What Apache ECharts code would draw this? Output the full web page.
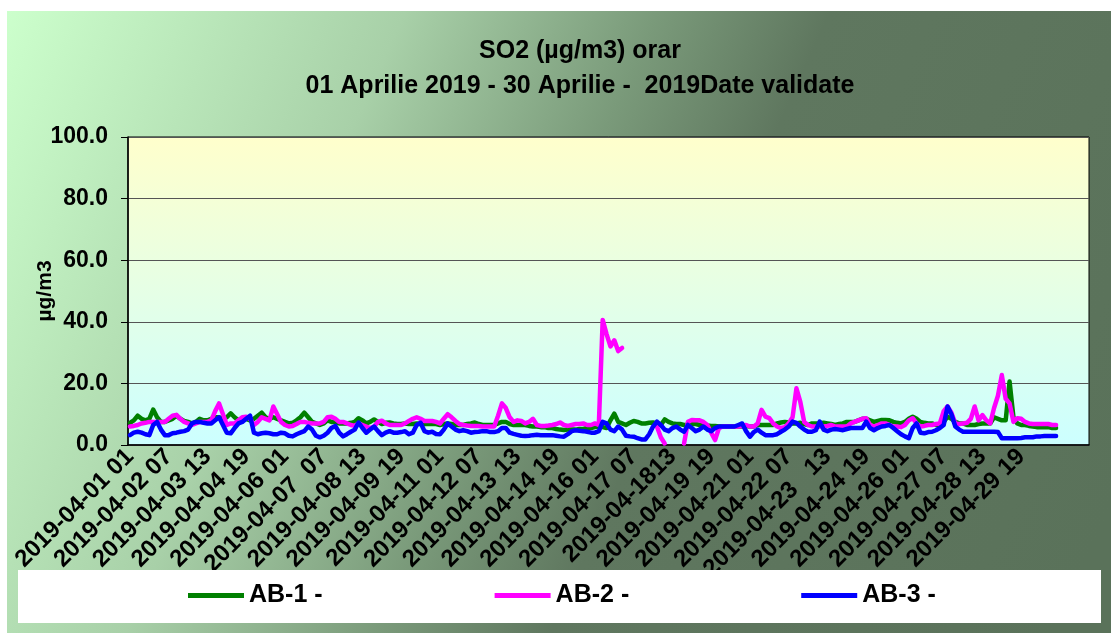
<!DOCTYPE html>
<html>
<head>
<meta charset="utf-8">
<title>SO2 orar</title>
<script src="https://cdn.jsdelivr.net/npm/echarts@6/dist/echarts.min.js"></script>
<style>
  html, body { margin: 0; padding: 0; background: #ffffff; }
  #chart { width: 1111px; height: 633px; }
</style>
</head>
<body>
<div id="chart"></div>
<script>
// 3-hourly readings, 2019-04-01 01 .. 2019-04-30 22 (240 points)
var ab1 = [
  7.2, 8, 9.5, 8.5, 8, 8.5, 11.5, 9, 7.5, 7.5,
  8, 8.5, 9.5, 8.5, 7.8, 7.5, 7, 7.5, 8.5, 8,
  8, 8.5, 9, 9, 8.5, 9, 10.3, 9, 8, 8.5,
  8.5, 8, 8.5, 9.5, 10.5, 9, 8.5, 9, 8.5, 8,
  7.5, 7, 7.2, 8, 9, 10.5, 9, 7.5, 7, 6.5,
  7, 8, 7.5, 7.5, 7, 7, 7, 7.2, 7.5, 8.7,
  8, 7, 7.5, 8.3, 7.5, 6.8, 7.2, 7.3, 7, 6.8,
  6.8, 7, 6.8, 6.8, 7, 6.8, 6.8, 6.8, 6.8, 6.8,
  6.5, 6.8, 7, 6.8, 6.5, 6.5, 6.5, 6.8, 7, 7.3,
  6.8, 6.5, 6.5, 6.5, 6.5, 7, 7.5, 7.5, 6.8, 6.5,
  6.5, 6.5, 6.5, 6.2, 6, 6, 5.8, 5.8, 5.5, 5.5,
  5.2, 5, 4.9, 5, 5, 5, 5.2, 5.2, 5.5, 5.5,
  5.8, 6, 5.8, 5.5, 8, 10.2, 7.5, 7, 6.5, 7.2,
  7.8, 7.5, 7, 7, 7.2, 7.3, 7, 6.5, 8.3, 7.5,
  7, 6.8, 6.8, 6.5, 6.5, 6.8, 6.8, 6.5, 6.5, 6.3,
  6.2, 6.2, 6, 6, 6, 6, 6, 6, 6, 6.2,
  6, 6, 6.5, 6.5, 6.5, 6.5, 6.5, 7, 7.3, 7.5,
  7.3, 7, 7, 7.2, 6.8, 6.5, 7, 7, 7, 7.2,
  7, 6.8, 6.5, 6.8, 7, 7.5, 7.5, 7.5, 8, 8.5,
  8.5, 8, 7.5, 7.8, 8.1, 8.1, 8, 7.5, 7.2, 7,
  7.5, 8.5, 9.2, 8.5, 7.5, 7.2, 7, 7, 6.5, 6.5,
  7.5, 9.2, 8.5, 7.5, 7, 7, 6.5, 6.5, 6.5, 6.8,
  7, 7, 7, 9, 8.5, 8, 8, 20.6, 9, 7,
  6.5, 6.5, 6.2, 6, 5.8, 5.8, 5.8, 5.8, 5.5, 5.5
];
var ab2 = [
  6, 6.2, 6.5, 7, 7.2, 7.5, 7.5, 7.5, 7.5, 7.5,
  8.5, 9.5, 9.8, 8.5, 7.5, 7, 6.5, 7, 7.5, 7.5,
  7.5, 8, 11, 13.5, 10, 6.5, 7, 7, 8, 9,
  9.2, 8.5, 6.5, 7.5, 9, 8.5, 8, 12.5, 10, 7.5,
  6.5, 6, 6.2, 6.8, 7.5, 7.5, 7.2, 7, 7, 7,
  7.5, 9, 9.2, 8.5, 7.5, 7.5, 7, 6.5, 6.2, 7,
  6.5, 6, 5.5, 6, 7.5, 7.9, 7, 6.5, 6.5, 6.5,
  6.5, 7, 7.8, 8.5, 9, 8.5, 7.8, 7.8, 7.8, 7.5,
  7, 8.5, 10, 9, 7.8, 6.8, 6.5, 6.3, 6.2, 6.2,
  6.2, 6, 6, 6, 6, 9.5, 13.5, 12, 9, 7.5,
  8, 7.8, 7, 7.5, 8.5, 6.5, 6.2, 6.2, 6.3, 6.5,
  6.8, 7.3, 6.5, 6.2, 6.5, 6.8, 6.8, 7, 6.5, 6.5,
  7, 6.5, 40.6, 36, 32, 34, 30.5, 31.5, null, null,
  null, null, null, null, null, null, 6, 2.5, 0.5, null,
  null, null, null, 0.5, 7.5, 8.1, 8, 8, 7.5, 6.5,
  4, 1.6, 5.5, 6, 6, 6, 6, 6, 6.2, 6.5,
  6, 6, 7, 11.4, 9.2, 8.7, 7, 6, 5.5, 5.8,
  7, 9, 18.4, 14, 7.5, 6.5, 6, 6, 6, 6,
  6.2, 6.5, 6, 6, 6, 6, 7, 7.5, 8, 8.5,
  8.7, 6.5, 6, 6.5, 7, 7, 6.5, 6, 6, 5.8,
  6.5, 8, 8.7, 7, 6, 6.2, 6.5, 6.5, 6.8, 7,
  11, 12.5, 10.5, 7, 6.8, 7, 7.2, 8.5, 12.5, 8,
  9.7, 8, 7, 12, 16, 22.7, 15, 13.5, 7.5, 8.7,
  8.5, 7.5, 7, 6.8, 6.8, 6.8, 6.8, 6.8, 6.5, 6.5
];
var ab3 = [
  3.2, 4, 4.3, 4, 3.5, 3.2, 6.5, 7.5, 5, 3.2,
  3.2, 3.8, 4, 4.3, 4.5, 5, 7, 7.5, 7.5, 7.2,
  7, 7, 8, 9, 6.5, 4, 3.8, 5.5, 7, 7.5,
  8.5, 9.5, 4, 3.5, 3.8, 4, 3.8, 3.5, 3.5, 4,
  3.8, 3, 2.8, 3.5, 4, 4.5, 6, 5, 3, 2.5,
  3, 4, 5.5, 6.2, 4, 2.8, 3.5, 4.3, 5, 7.3,
  5.5, 4, 5, 6, 4.5, 3.2, 4, 4.5, 4, 4,
  4.2, 4.5, 3.5, 4, 6.5, 7.2, 4.5, 4, 4.3, 3.6,
  3.5, 5, 7, 6, 5, 4.5, 4.8, 4.5, 4, 4.2,
  4.3, 4.5, 4.5, 4.2, 4.2, 4.5, 5.5, 5.5, 4, 3.6,
  3.3, 3, 2.9, 3, 3.2, 3.3, 3.2, 3.2, 3.2, 3.2,
  3, 2.8, 2.7, 3.5, 4.5, 4.8, 4.6, 4.5, 4.3, 4,
  4, 4.5, 7.5, 7, 5, 4.5, 6, 5, 3, 2.8,
  2.7, 2.2, 1.8, 1.8, 3.5, 6, 7.6, 6.5, 5, 4.5,
  5.5, 6, 5, 4.3, 6.5, 5.5, 4.5, 5, 6, 5,
  4.5, 5.5, 6, 6, 6, 6, 6, 6.5, 7, 4.5,
  2.7, 4.2, 5, 4, 3.2, 3.2, 3.2, 3.5, 4.3, 5,
  6, 7.6, 7.2, 6, 5, 4.3, 4.3, 4.8, 7.6, 5,
  4.5, 5, 5.2, 5, 4.8, 5.2, 5.5, 5.5, 5.5, 5.5,
  7.6, 5.5, 4.8, 5.5, 6, 6.2, 6.5, 5.5, 4.5, 3.5,
  2.8, 2.2, 5.5, 7, 4, 3.8, 4.2, 4.3, 4.8, 5.5,
  6.5, 12.5, 10, 6, 5, 4.3, 4.3, 4.3, 4.3, 4.3,
  4.3, 4.3, 4.3, 4.3, 4.2, 2.2, 2.2, 2.2, 2.2, 2.2,
  2.3, 2.5, 2.5, 2.5, 2.8, 2.8, 2.9, 2.9, 2.9, 2.9
];

// tick labels, one every 30 hours (every 10th 3-hour slot)
var tickLabels = [
  "2019-04-01 01", "2019-04-02 07", "2019-04-03 13", "2019-04-04 19",
  "2019-04-06 01", "2019-04-07  07", "2019-04-08 13", "2019-04-09 19",
  "2019-04-11 01", "2019-04-12 07", "2019-04-13 13", "2019-04-14 19",
  "2019-04-16 01", "2019-04-17 07", "2019-04-1813", "2019-04-19 19",
  "2019-04-21 01", "2019-04-22 07", "2019-04-23   13", "2019-04-24 19",
  "2019-04-26 01", "2019-04-27 07", "2019-04-28 13", "2019-04-29 19"
];
var seriesNames = ["AB-1 -", "AB-2 -", "AB-3 -"];
var seriesColors = ["#008000", "#ff00ff", "#0000ff"];
var yTicks = [0, 20, 40, 60, 80, 100];

// the sheet axis holds 31 days of slots; April fills the first 240
var cats = [];
var labelMap = {};
for (var i = 0; i < 248; i++) {
  var h = 1 + i * 3;
  var day = Math.floor((h - 1) / 24) + 1;
  var hr = ((h - 1) % 24) + 1;
  var key = "2019-04-" + (day < 10 ? "0" + day : day) + " " + (hr < 10 ? "0" + hr : hr);
  cats.push(key);
  if (i % 10 === 0 && tickLabels[i / 10]) labelMap[key] = tickLabels[i / 10];
}

var FONT = '"Liberation Sans", Arial, sans-serif';
var chart = echarts.init(document.getElementById("chart"), null, { renderer: "canvas" });

var option = {
  backgroundColor: "#ffffff",
  animation: false,
  graphic: [
    {
      type: "rect", z: -10, silent: true,
      shape: { x: 7, y: 11, width: 1104, height: 622 },
      style: {
        fill: new echarts.graphic.LinearGradient(0, 0, 1, 0.8, [
          { offset: 0, color: "#ccffcc" },
          { offset: 0.3, color: "#a8d0a8" },
          { offset: 0.49, color: "#7a9a7a" },
          { offset: 0.62, color: "#5f775f" },
          { offset: 1, color: "#5a725a" }
        ])
      }
    },
    {
      type: "rect", z: 50, silent: true,
      shape: { x: 18, y: 570, width: 1083, height: 53 },
      style: { fill: "#ffffff" }
    }
  ],
  title: {
    text: "SO2 (µg/m3) orar\n01 Aprilie 2019 - 30 Aprilie -  2019Date validate",
    left: 575,
    top: 29,
    textAlign: "center",
    textStyle: { fontFamily: FONT, fontSize: 25, fontWeight: "bold", lineHeight: 35, color: "#000" }
  },
  legend: {
    data: seriesNames,
    left: 188,
    top: 583,
    z: 60,
    padding: 0,
    icon: "rect",
    itemWidth: 56,
    itemHeight: 5,
    itemGap: 172,
    textStyle: { fontFamily: FONT, fontSize: 25, fontWeight: "bold", color: "#000" }
  },
  grid: {
    left: 128, right: 22, top: 137, bottom: 188,
    show: true,
    borderColor: "#000",
    borderWidth: 1,
    backgroundColor: new echarts.graphic.LinearGradient(0, 0, 0, 1, [
      { offset: 0, color: "#ffffcc" },
      { offset: 1, color: "#ccffff" }
    ])
  },
  xAxis: {
    type: "category",
    data: cats,
    boundaryGap: true,
    axisLine: { lineStyle: { color: "#000", width: 1.5 } },
    axisTick: { show: false },
    splitLine: { show: false },
    axisLabel: {
      interval: 9,
      rotate: 45,
      margin: 8,
      color: "#000",
      fontFamily: FONT,
      fontSize: 24,
      fontWeight: "bold",
      formatter: function (v) { return labelMap[v] || ""; }
    }
  },
  yAxis: {
    type: "value",
    min: yTicks[0],
    max: yTicks[yTicks.length - 1],
    interval: 20,
    name: "µg/m3",
    nameLocation: "middle",
    nameRotate: 90,
    nameGap: 72,
    nameMoveOverlap: false,
    nameTextStyle: { fontFamily: FONT, fontSize: 21, fontWeight: "bold", color: "#000" },
    axisLine: { show: true, lineStyle: { color: "#000", width: 1.5 } },
    axisTick: { show: true, length: 7, lineStyle: { color: "#000" } },
    axisLabel: {
      margin: 20,
      color: "#000",
      fontFamily: FONT,
      fontSize: 23,
      fontWeight: "bold",
      formatter: function (v) { return v.toFixed(1); }
    },
    splitLine: { lineStyle: { color: "#555", width: 1.2 } }
  },
  series: seriesNames.map(function (name, k) {
    return {
      name: name,
      type: "line",
      data: [ab1, ab2, ab3][k],
      showSymbol: false,
      connectNulls: false,
      color: seriesColors[k],
      lineStyle: { width: 4.5, color: seriesColors[k], cap: "round", join: "round" },
      itemStyle: { color: seriesColors[k] }
    };
  })
};

chart.setOption(option);
</script>
</body>
</html>
